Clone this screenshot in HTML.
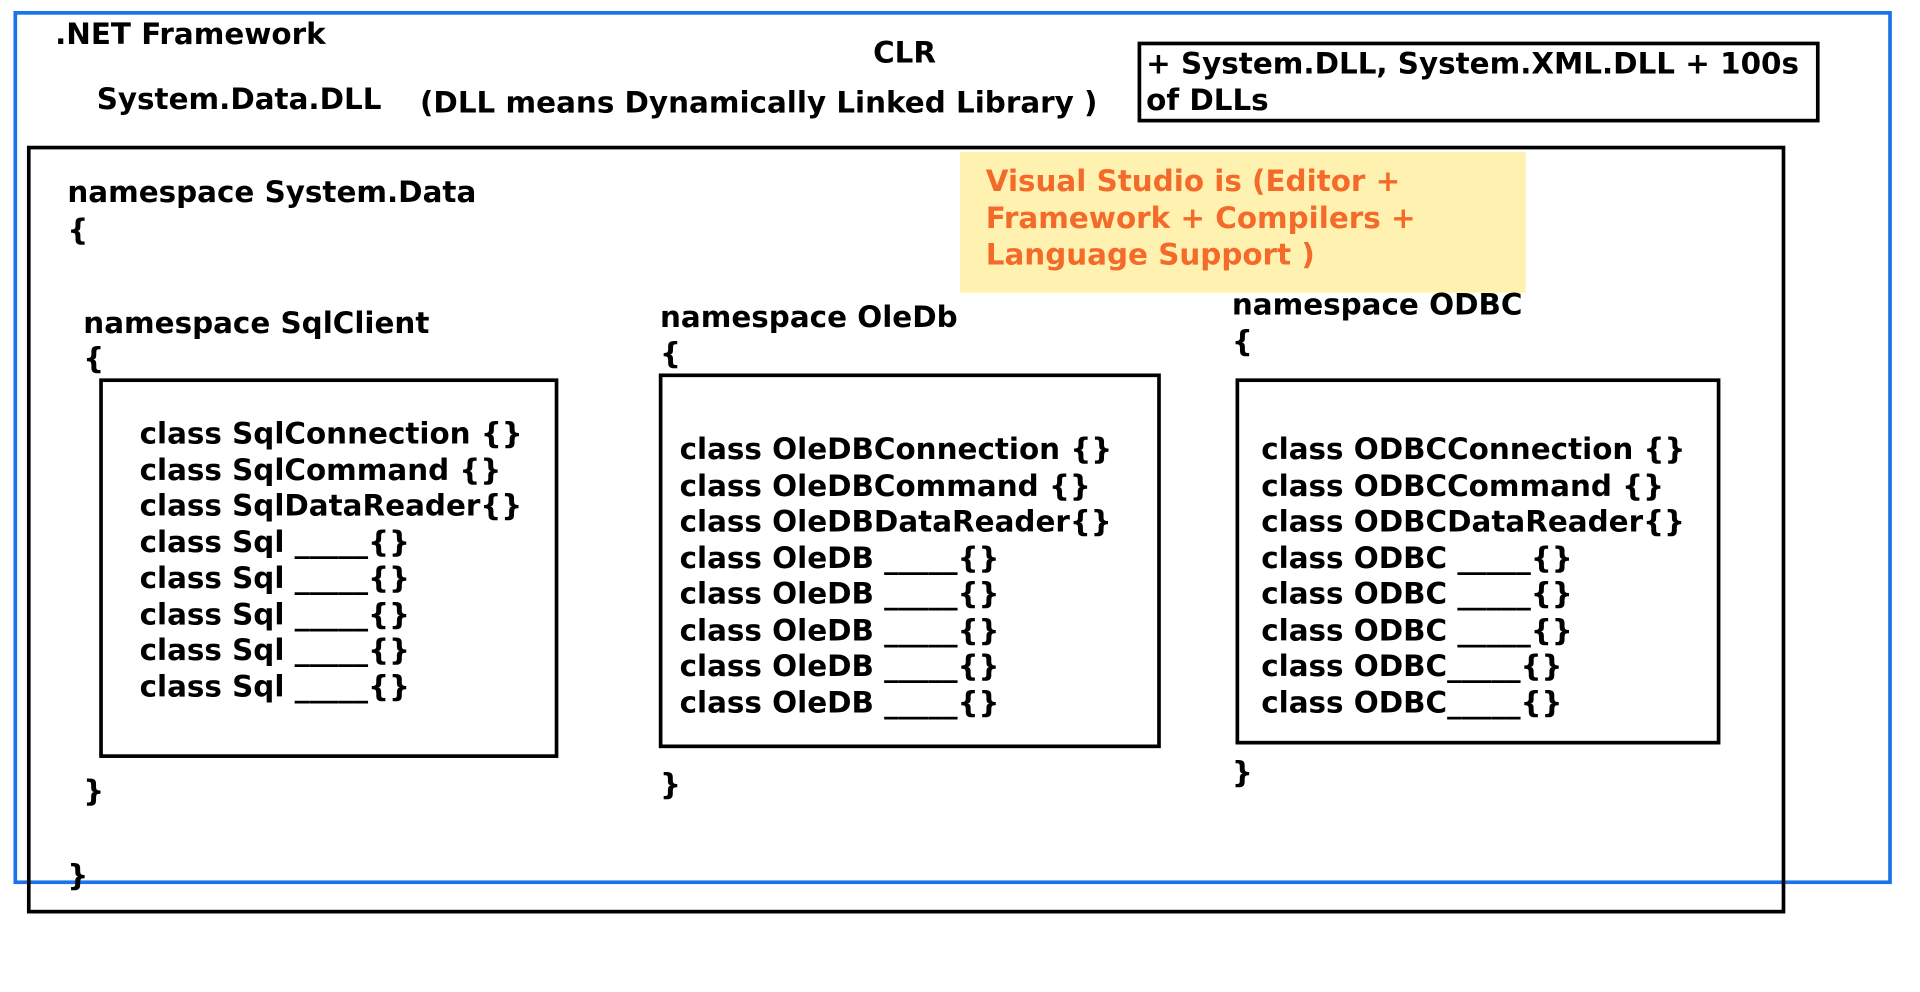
<!DOCTYPE html>
<html><head><meta charset="utf-8"><style>
html,body{margin:0;padding:0;background:#fff;width:1920px;height:991px;overflow:hidden}
#s{position:absolute;left:0;top:0;width:1568px;height:810px;transform:scale(1.2245);transform-origin:0 0;font-family:"DejaVu Sans","Liberation Sans",sans-serif;font-weight:bold;font-size:24px;color:#000}
.t{position:absolute;line-height:30px;white-space:pre}
.b{position:absolute;border:3px solid #000;box-sizing:border-box}
.o{color:#f36a2a}
</style></head><body><div id="s">
<div class="b" style="left:11px;top:9px;width:1534px;height:713px;border-color:#1a73e8"></div>
<div class="b" style="left:22px;top:119px;width:1436px;height:627px"></div>
<div class="b" style="left:929px;top:34px;width:557px;height:66px"></div>
<div style="position:absolute;left:784px;top:124px;width:462px;height:115px;background:#fff2b0"></div>
<div class="b" style="left:81px;top:309px;width:375px;height:310px"></div>
<div class="b" style="left:538px;top:305px;width:410px;height:306px"></div>
<div class="b" style="left:1009px;top:309px;width:396px;height:299px"></div>

<div class="t" style="left:45px;top:13px">.NET Framework</div>
<div class="t" style="left:713px;top:28px">CLR</div>
<div class="t" style="left:79px;top:66px">System.Data.DLL</div>
<div class="t" style="left:343px;top:69px">(DLL means Dynamically Linked Library )</div>
<div class="t" style="left:936px;top:37px">+ System.DLL, System.XML.DLL + 100s</div>
<div class="t" style="left:936px;top:67px">of DLLs</div>
<div class="t o" style="left:805px;top:133px;line-height:30px">Visual Studio is (Editor +
Framework + Compilers +
Language Support )</div>
<div class="t" style="left:55px;top:142px">namespace System.Data</div>
<div class="t" style="left:55px;top:173px">{</div>
<div class="t" style="left:68px;top:249px">namespace SqlClient</div>
<div class="t" style="left:68px;top:278px">{</div>
<div class="t" style="left:114px;top:340px;line-height:29.5px">class SqlConnection {}
class SqlCommand {}
class SqlDataReader{}
class Sql _____{}
class Sql _____{}
class Sql _____{}
class Sql _____{}
class Sql _____{}</div>
<div class="t" style="left:68px;top:631px">}</div>
<div class="t" style="left:55px;top:700px">}</div>
<div class="t" style="left:539px;top:244px">namespace OleDb</div>
<div class="t" style="left:539px;top:274px">{</div>
<div class="t" style="left:555px;top:353px;line-height:29.5px">class OleDBConnection {}
class OleDBCommand {}
class OleDBDataReader{}
class OleDB _____{}
class OleDB _____{}
class OleDB _____{}
class OleDB _____{}
class OleDB _____{}</div>
<div class="t" style="left:539px;top:626px">}</div>
<div class="t" style="left:1006px;top:234px">namespace ODBC</div>
<div class="t" style="left:1006px;top:264px">{</div>
<div class="t" style="left:1030px;top:353px;line-height:29.5px">class ODBCConnection {}
class ODBCCommand {}
class ODBCDataReader{}
class ODBC _____{}
class ODBC _____{}
class ODBC _____{}
class ODBC_____{}
class ODBC_____{}</div>
<div class="t" style="left:1006px;top:616px">}</div>
</div></body></html>
